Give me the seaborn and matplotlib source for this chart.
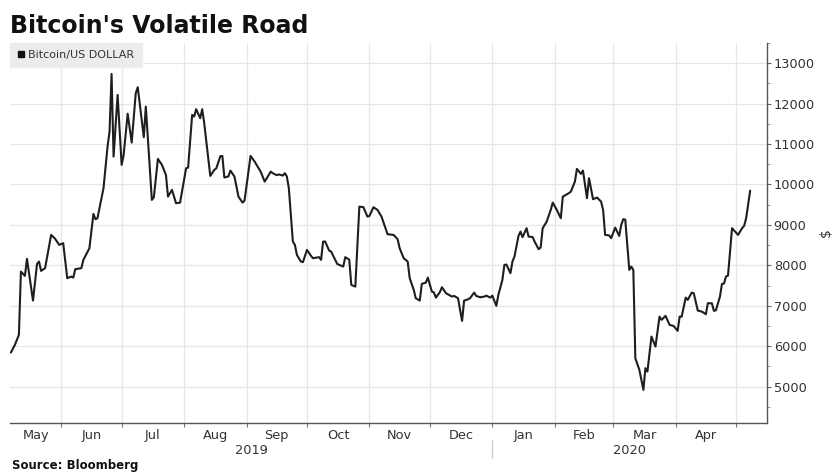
import matplotlib
matplotlib.use("Agg")
import matplotlib.pyplot as plt
import matplotlib.transforms as mtransforms
from matplotlib.lines import Line2D
import pandas as pd
import seaborn as sns

# ---------------- data ----------------
dates = [
    "2019-05-07", "2019-05-09", "2019-05-11", "2019-05-12", "2019-05-14", "2019-05-15",
    "2019-05-18", "2019-05-20", "2019-05-21", "2019-05-22", "2019-05-24", "2019-05-27",
    "2019-05-29", "2019-05-31", "2019-06-02", "2019-06-04", "2019-06-06", "2019-06-07",
    "2019-06-08", "2019-06-11", "2019-06-12", "2019-06-15", "2019-06-17", "2019-06-18",
    "2019-06-19", "2019-06-22", "2019-06-24", "2019-06-25", "2019-06-26", "2019-06-27",
    "2019-06-29", "2019-07-01", "2019-07-02", "2019-07-04", "2019-07-06", "2019-07-08",
    "2019-07-09", "2019-07-12", "2019-07-13", "2019-07-16", "2019-07-17", "2019-07-19",
    "2019-07-21", "2019-07-23", "2019-07-24", "2019-07-26", "2019-07-28", "2019-07-30",
    "2019-08-02", "2019-08-03", "2019-08-05", "2019-08-06", "2019-08-07", "2019-08-09",
    "2019-08-10", "2019-08-11", "2019-08-14", "2019-08-16", "2019-08-17", "2019-08-19",
    "2019-08-20", "2019-08-21", "2019-08-23", "2019-08-24", "2019-08-26", "2019-08-28",
    "2019-08-30", "2019-08-31", "2019-09-03", "2019-09-05", "2019-09-08", "2019-09-10",
    "2019-09-11", "2019-09-13", "2019-09-14", "2019-09-16", "2019-09-17", "2019-09-19",
    "2019-09-20", "2019-09-21", "2019-09-22", "2019-09-23", "2019-09-24", "2019-09-25",
    "2019-09-26", "2019-09-28", "2019-09-29", "2019-10-01", "2019-10-03", "2019-10-04",
    "2019-10-07", "2019-10-08", "2019-10-09", "2019-10-10", "2019-10-12", "2019-10-13",
    "2019-10-15", "2019-10-16", "2019-10-17", "2019-10-19", "2019-10-20", "2019-10-22",
    "2019-10-23", "2019-10-25", "2019-10-27", "2019-10-29", "2019-10-31", "2019-11-01",
    "2019-11-03", "2019-11-05", "2019-11-07", "2019-11-09", "2019-11-10", "2019-11-13",
    "2019-11-15", "2019-11-16", "2019-11-18", "2019-11-20", "2019-11-21", "2019-11-23",
    "2019-11-24", "2019-11-26", "2019-11-27", "2019-11-29", "2019-11-30", "2019-12-02",
    "2019-12-03", "2019-12-04", "2019-12-06", "2019-12-07", "2019-12-09", "2019-12-12",
    "2019-12-13", "2019-12-15", "2019-12-16", "2019-12-17", "2019-12-18", "2019-12-20",
    "2019-12-21", "2019-12-23", "2019-12-24", "2019-12-26", "2019-12-28", "2019-12-29",
    "2019-12-31", "2020-01-01", "2020-01-03", "2020-01-04", "2020-01-06", "2020-01-07",
    "2020-01-08", "2020-01-10", "2020-01-11", "2020-01-12", "2020-01-14", "2020-01-15",
    "2020-01-16", "2020-01-18", "2020-01-19", "2020-01-21", "2020-01-22", "2020-01-24",
    "2020-01-25", "2020-01-26", "2020-01-28", "2020-01-30", "2020-01-31", "2020-02-02",
    "2020-02-04", "2020-02-05", "2020-02-08", "2020-02-09", "2020-02-11", "2020-02-12",
    "2020-02-14", "2020-02-15", "2020-02-17", "2020-02-18", "2020-02-20", "2020-02-22",
    "2020-02-24", "2020-02-25", "2020-02-26", "2020-02-28", "2020-02-29", "2020-03-02",
    "2020-03-04", "2020-03-05", "2020-03-06", "2020-03-07", "2020-03-09", "2020-03-10",
    "2020-03-11", "2020-03-12", "2020-03-14", "2020-03-16", "2020-03-17", "2020-03-18",
    "2020-03-20", "2020-03-22", "2020-03-24", "2020-03-25", "2020-03-27", "2020-03-29",
    "2020-03-31", "2020-04-02", "2020-04-03", "2020-04-04", "2020-04-06", "2020-04-07",
    "2020-04-09", "2020-04-10", "2020-04-12", "2020-04-14", "2020-04-16", "2020-04-17",
    "2020-04-19", "2020-04-20", "2020-04-21", "2020-04-23", "2020-04-24", "2020-04-25",
    "2020-04-26", "2020-04-27", "2020-04-29", "2020-05-01", "2020-05-02", "2020-05-04",
    "2020-05-05", "2020-05-06", "2020-05-08",
]
prices = [
    5842, 6032, 6280, 7846, 7740, 8160,
    7128, 8035, 8093, 7863, 7930, 8754,
    8655, 8506, 8548, 7682, 7722, 7697,
    7905, 7930, 8135, 8424, 9273, 9141,
    9166, 9908, 10937, 11308, 12735, 10690,
    12216, 10485, 10732, 11750, 11036, 12258,
    12406, 11170, 11927, 9619, 9685, 10633,
    10485, 10237, 9700, 9866, 9537, 9550,
    10403, 10418, 11721, 11680, 11862, 11640,
    11862, 11516, 10212, 10361, 10400, 10700,
    10707, 10171, 10200, 10344, 10196, 9700,
    9552, 9600, 10707, 10567, 10319, 10072,
    10150, 10319, 10279, 10230, 10250, 10220,
    10279, 10200, 9908, 9248, 8587, 8506,
    8258, 8093, 8080, 8382, 8234, 8177,
    8202, 8135, 8587, 8590, 8366, 8340,
    8135, 8036, 8011, 7969, 8202, 8140,
    7516, 7474, 9453, 9440, 9206, 9220,
    9438, 9371, 9206, 8919, 8770, 8753,
    8647, 8424, 8177, 8093, 7682, 7393,
    7187, 7128, 7541, 7573, 7697, 7351,
    7330, 7202, 7340, 7459, 7310, 7227,
    7244, 7187, 6898, 6626, 7128, 7160,
    7190, 7326, 7244, 7210, 7227, 7250,
    7202, 7250, 6997, 7269, 7640, 8011,
    8020, 7806, 8093, 8217, 8728, 8835,
    8696, 8919, 8711, 8700, 8587, 8400,
    8440, 8919, 9082, 9371, 9552, 9371,
    9166, 9700, 9785, 9824, 10072, 10386,
    10262, 10344, 9660, 10155, 9636, 9676,
    9577, 9371, 8753, 8740, 8672, 8934,
    8728, 9000, 9141, 9130, 7887, 7969,
    7887, 5703, 5414, 4919, 5456, 5372,
    6238, 5990, 6732, 6651, 6750, 6527,
    6500, 6379, 6732, 6730, 7202, 7145,
    7326, 7310, 6881, 6856, 6791, 7064,
    7060, 6873, 6890, 7227, 7541, 7550,
    7722, 7747, 8919, 8810, 8753, 8919,
    8976, 9166, 9849,
]
series_label = "Bitcoin/US DOLLAR"
month_labels = ["May", "Jun", "Jul", "Aug", "Sep", "Oct", "Nov", "Dec",
                "Jan", "Feb", "Mar", "Apr"]
year_labels = ["2019", "2020"]
y_ticks = [5000, 6000, 7000, 8000, 9000, 10000, 11000, 12000, 13000]

df = pd.DataFrame({"date": pd.to_datetime(dates), "price": prices})

# ---------------- figure ----------------
sns.set_theme(style="white")
plt.rcParams["font.family"] = ["DejaVu Sans"]

W, H = 835, 472
fig = plt.figure(figsize=(W / 100, H / 100), dpi=100)
ax_l, ax_r, ax_t, ax_b = 10, 766.7, 43, 423
ax = fig.add_axes([ax_l / W, 1 - ax_b / H, (ax_r - ax_l) / W, (ax_b - ax_t) / H])

sns.lineplot(data=df, x="date", y="price", ax=ax, color="#1e1e1e",
             linewidth=1.5, legend=False)

x0 = pd.Timestamp("2019-05-06 14:00")
x1 = pd.Timestamp("2020-05-16 05:00")
ax.set_xlim(x0, x1)
ax.set_ylim(4100, 13500)

# y axis on the right
ax.yaxis.tick_right()
ax.yaxis.set_label_position("right")
ax.set_yticks(y_ticks)
ax.set_yticks([v + 500 for v in [4000] + y_ticks], minor=True)
ax.set_yticklabels([str(v) for v in y_ticks])
ax.tick_params(axis="y", which="major", direction="out", length=3, width=0.8,
               color="#666666", labelsize=9.3, labelcolor="#333333", pad=2,
               right=True, left=False)
ax.tick_params(axis="y", which="minor", direction="out", length=2, width=0.6,
               color="#888888", right=True, left=False)
ax.set_ylabel("$", fontsize=10, color="#333333", labelpad=3, rotation=90)

# x axis: month boundaries as major ticks, labels centred in the visible month
bounds = list(pd.date_range("2019-06-01", "2020-05-01", freq="MS"))
ax.set_xticks(bounds)
ax.xaxis.set_major_formatter(plt.NullFormatter())
edges = [x0] + bounds
mids = [edges[i] + (edges[i + 1] - edges[i]) / 2 for i in range(len(month_labels))]
ax.set_xticks(mids, minor=True)
ax.set_xticklabels(month_labels, minor=True)
ax.tick_params(axis="x", which="major", direction="out", length=3, width=0.8,
               color="#777777", bottom=True)
ax.tick_params(axis="x", which="minor", length=0, labelsize=9.3,
               labelcolor="#333333", pad=4)
ax.set_xlabel("")

# grid
ax.grid(True, which="major", axis="both", color="#e6e6e6", linewidth=0.9)
ax.set_axisbelow(True)

# spines
for s in ["left", "top"]:
    ax.spines[s].set_visible(False)
for s in ["right", "bottom"]:
    ax.spines[s].set_visible(True)
    ax.spines[s].set_color("#555555")
    ax.spines[s].set_linewidth(1.0)

# year labels and separator
trans = mtransforms.blended_transform_factory(ax.transData, ax.transAxes)
jan1 = pd.Timestamp("2020-01-01")
ax_h = ax_b - ax_t
ax.plot([jan1, jan1], [-(440 - ax_b) / ax_h, -(458 - ax_b) / ax_h],
        transform=trans, color="#cccccc", lw=1, clip_on=False)
year_mid = [x0 + (jan1 - x0) / 2, jan1 + (x1 - jan1) / 2]
for lbl, xm in zip(year_labels, year_mid):
    ax.text(xm, -(450 - ax_b) / ax_h, lbl, transform=trans, ha="center",
            va="center", fontsize=9.3, color="#333333")

# legend
handle = Line2D([0], [0], marker="s", color="#111111", linestyle="none", markersize=5)
leg = ax.legend(handles=[handle], labels=[series_label], loc="upper left",
                bbox_to_anchor=(0, 1), borderaxespad=0, frameon=True,
                fancybox=False, facecolor="#ececec", edgecolor="#ececec",
                framealpha=1, fontsize=8, handlelength=0.7, handletextpad=0.3,
                borderpad=0.65)
for t in leg.get_texts():
    t.set_color("#333333")

# title and source
fig.text(10 / W, 1 - 33 / H, "Bitcoin's Volatile Road", fontsize=17,
         fontweight="bold", color="#111111", va="baseline", ha="left")
fig.text(12 / W, 1 - 469 / H, "Source: Bloomberg", fontsize=8.5,
         fontweight="bold", color="#111111", va="baseline", ha="left")

fig.savefig("out.png", dpi=100)
